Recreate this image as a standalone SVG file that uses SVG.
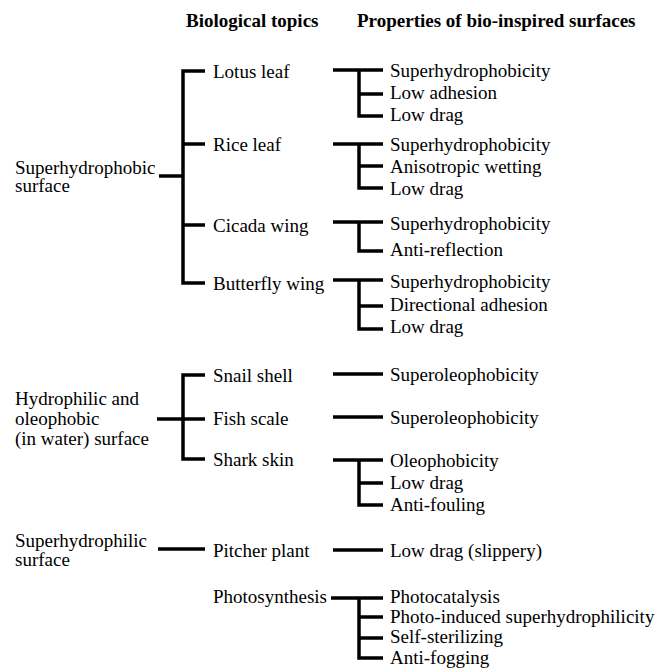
<svg xmlns="http://www.w3.org/2000/svg" width="659" height="669" viewBox="0 0 659 669">
<style>
text{font-family:"Liberation Serif","Times New Roman",serif;font-size:19px;fill:#000}
.h{font-weight:bold}
.c{fill:none;stroke:#000;stroke-width:3.5;stroke-linejoin:miter;stroke-linecap:butt}
</style>
<rect width="659" height="669" fill="#fff"/>
<g id="headers">
<text class="h" x="186" y="27">Biological topics</text>
<text class="h" x="357" y="27">Properties of bio-inspired surfaces</text>
</g>
<g id="connectors">
<path class="c" d="M205,71 H183 V283 H205 M183,144 H205 M183,225 H205 M159,176 H183"/>
<path class="c" d="M205,375 H183 V459 H205 M157,419 H205"/>
<path class="c" d="M158,549 H205"/>
<path class="c" d="M333,70 H383 M359,70 V116 H383 M359,94 H383"/>
<path class="c" d="M333,144 H383 M359,144 V188 H383 M359,166 H383"/>
<path class="c" d="M333,222 H383 M359,222 V251 H383"/>
<path class="c" d="M333,280 H383 M359,280 V329 H383 M359,306 H383"/>
<path class="c" d="M333,374 H383"/>
<path class="c" d="M333,417 H383"/>
<path class="c" d="M333,460 H383 M359,460 V505 H383 M359,483 H383"/>
<path class="c" d="M333,550 H383"/>
<path class="c" d="M331,598 H383 M359,598 V658 H383 M359,617 H383 M359,638 H383"/>
</g>
<g id="cat-superhydrophobic">
<text x="15" y="174">Superhydrophobic</text>
<text x="15" y="192">surface</text>
</g>
<g id="cat-hydrophilic-oleophobic">
<text x="15" y="405">Hydrophilic and</text>
<text x="15" y="425">oleophobic</text>
<text x="15" y="445">(in water) surface</text>
</g>
<g id="cat-superhydrophilic">
<text x="15" y="547">Superhydrophilic</text>
<text x="15" y="566">surface</text>
</g>
<g id="topic-lotus"><text x="213" y="78">Lotus leaf</text></g>
<g id="topic-rice"><text x="213" y="151">Rice leaf</text></g>
<g id="topic-cicada"><text x="213" y="232">Cicada wing</text></g>
<g id="topic-butterfly"><text x="213" y="290">Butterfly wing</text></g>
<g id="topic-snail"><text x="213" y="382">Snail shell</text></g>
<g id="topic-fish"><text x="213" y="425">Fish scale</text></g>
<g id="topic-shark"><text x="213" y="466">Shark skin</text></g>
<g id="topic-pitcher"><text x="213" y="557">Pitcher plant</text></g>
<g id="topic-photosynthesis"><text x="213" y="603">Photosynthesis</text></g>
<g id="props-lotus">
<text x="390" y="77">Superhydrophobicity</text>
<text x="390" y="99">Low adhesion</text>
<text x="390" y="121">Low drag</text>
</g>
<g id="props-rice">
<text x="390" y="151">Superhydrophobicity</text>
<text x="390" y="173">Anisotropic wetting</text>
<text x="390" y="195">Low drag</text>
</g>
<g id="props-cicada">
<text x="390" y="230">Superhydrophobicity</text>
<text x="390" y="256">Anti-reflection</text>
</g>
<g id="props-butterfly">
<text x="390" y="288">Superhydrophobicity</text>
<text x="390" y="311">Directional adhesion</text>
<text x="390" y="333">Low drag</text>
</g>
<g id="props-snail"><text x="390" y="381">Superoleophobicity</text></g>
<g id="props-fish"><text x="390" y="424">Superoleophobicity</text></g>
<g id="props-shark">
<text x="390" y="467">Oleophobicity</text>
<text x="390" y="489">Low drag</text>
<text x="390" y="511">Anti-fouling</text>
</g>
<g id="props-pitcher"><text x="390" y="557">Low drag (slippery)</text></g>
<g id="props-photosynthesis">
<text x="390" y="603">Photocatalysis</text>
<text x="390" y="623">Photo-induced superhydrophilicity</text>
<text x="390" y="643">Self-sterilizing</text>
<text x="390" y="664">Anti-fogging</text>
</g>
</svg>
